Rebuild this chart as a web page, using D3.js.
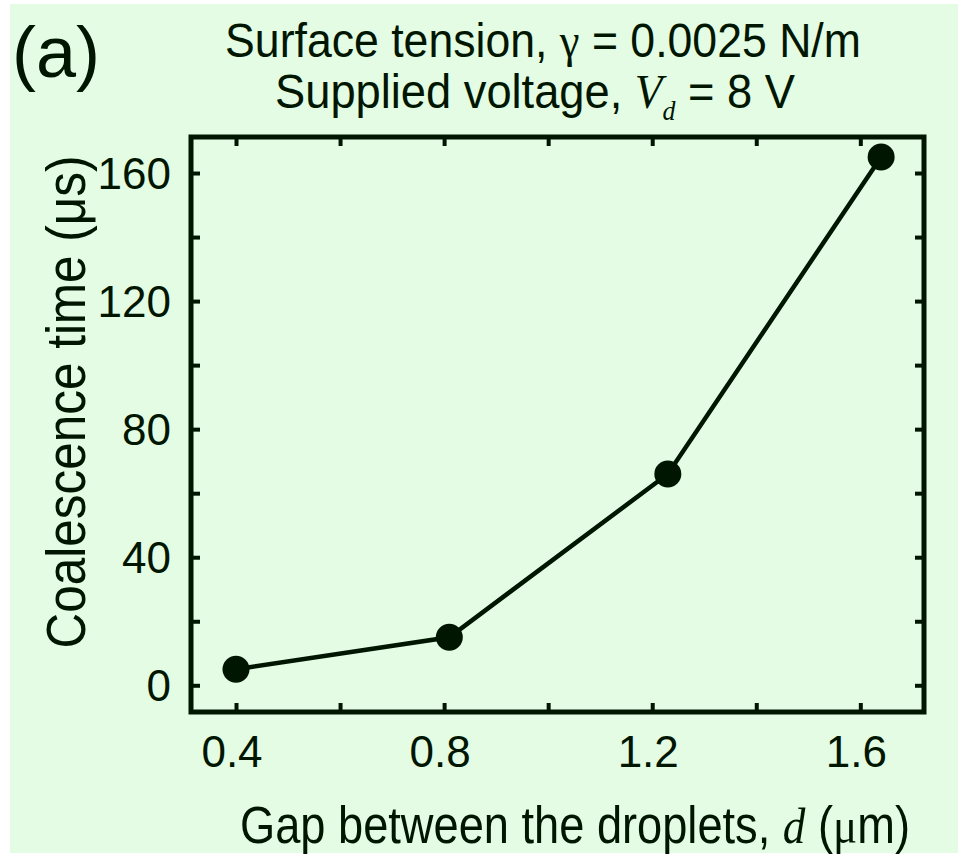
<!DOCTYPE html>
<html>
<head>
<meta charset="utf-8">
<script src="https://cdn.jsdelivr.net/npm/d3@7"></script>
<style>
  html, body { margin: 0; padding: 0; background: #ffffff; }
  svg { display: block; }
  text { font-family: "Liberation Sans", Arial, Helvetica, sans-serif; fill: #001600; }
</style>
</head>
<body>
<svg id="chart" width="958" height="858"></svg>
<script>
// ---- data ----
const gap = [0.40, 0.81, 1.23, 1.64];          // d (µm)
const coalescenceTime = [5, 15, 66, 165];       // µs
const xTicks = [0.4, 0.6, 0.8, 1.0, 1.2, 1.4, 1.6];
const xTickLabels = ["0.4", "0.8", "1.2", "1.6"];
const yTicks = [0, 20, 40, 60, 80, 100, 120, 140, 160];
const yTickLabels = ["0", "40", "80", "120", "160"];

const ink = "#001600";
const bg = "#e3fce3";
const serif = "Liberation Serif, 'DejaVu Serif', serif";

const svg = d3.select("#chart");
svg.append("rect").attr("x", 10).attr("y", 4).attr("width", 948).attr("height", 849).attr("fill", bg);

const L = 191, R = 924, T = 137, B = 712;
const x = d3.scaleLinear().domain([0.3135, 1.7224]).range([L, R]);
const y = d3.scaleLinear().domain([-8.34, 171.25]).range([B, T]);

const tickLen = 9;
const gx = svg.append("g").attr("transform", `translate(0,${B})`)
  .call(d3.axisBottom(x).tickValues(xTicks).tickSizeInner(-tickLen).tickSizeOuter(0).tickFormat(""));
const gxTop = svg.append("g").attr("transform", `translate(0,${T})`)
  .call(d3.axisTop(x).tickValues(xTicks).tickSizeInner(-tickLen).tickSizeOuter(0).tickFormat(""));
const gy = svg.append("g").attr("transform", `translate(${L},0)`)
  .call(d3.axisLeft(y).tickValues(yTicks).tickSizeInner(-tickLen).tickSizeOuter(0).tickFormat(""));
const gyR = svg.append("g").attr("transform", `translate(${R},0)`)
  .call(d3.axisRight(y).tickValues(yTicks).tickSizeInner(-tickLen).tickSizeOuter(0).tickFormat(""));
[gx, gxTop, gy, gyR].forEach(g => {
  g.select(".domain").remove();
  g.selectAll(".tick line").attr("stroke", ink).attr("stroke-width", 4);
});

// frame
svg.append("rect").attr("x", L).attr("y", T).attr("width", R - L).attr("height", B - T)
  .attr("fill", "none").attr("stroke", ink).attr("stroke-width", 5);

// tick labels
svg.append("g").selectAll("text").data(xTickLabels).join("text")
  .attr("x", d => x(+d) - 4).attr("y", 767)
  .attr("text-anchor", "middle").attr("font-size", 44).text(d => d);
svg.append("g").selectAll("text").data(yTickLabels).join("text")
  .attr("x", 171).attr("y", d => y(+d)).attr("dy", "0.36em")
  .attr("text-anchor", "end").attr("font-size", 44).text(d => d);

// line + markers
const pts = gap.map((g, i) => [g, coalescenceTime[i]]);
svg.append("path").datum(pts)
  .attr("d", d3.line().x(d => x(d[0])).y(d => y(d[1])))
  .attr("fill", "none").attr("stroke", ink).attr("stroke-width", 4.5);
svg.append("g").selectAll("circle").data(pts).join("circle")
  .attr("cx", d => x(d[0])).attr("cy", d => y(d[1])).attr("r", 13.5).attr("fill", ink);

// condensed text helper: fit the natural text width to a target width by horizontal scaling
function fitted(cx, cy, size, targetW, rot) {
  const g = svg.append("g");
  const t = g.append("text").attr("x", 0).attr("y", 0).attr("text-anchor", "middle").attr("font-size", size);
  return {
    t,
    fit() {
      const w = t.node().getComputedTextLength();
      const s = targetW / w;
      g.attr("transform", `translate(${cx},${cy}) rotate(${rot || 0}) scale(${s},1)`);
    }
  };
}

// panel label
svg.append("text").attr("x", 12).attr("y", 77).attr("font-size", 72).text("(a)");

const t1 = fitted(543, 57, 49, 636);
t1.t.append("tspan").text("Surface tension, ");
t1.t.append("tspan").attr("font-family", serif).text("γ");
t1.t.append("tspan").text(" = 0.0025 N/m");
t1.fit();

const t2 = fitted(535, 108, 49, 520);
t2.t.append("tspan").text("Supplied voltage, ");
t2.t.append("tspan").attr("font-family", serif).attr("font-style", "italic").text("V");
t2.t.append("tspan").attr("font-family", serif).attr("font-style", "italic")
  .attr("font-size", 28).attr("dy", 12).text("d");
t2.t.append("tspan").attr("dy", -12).text(" = 8 V");
t2.fit();

const xt = fitted(575, 843, 51, 670);
xt.t.append("tspan").text("Gap between the droplets, ");
xt.t.append("tspan").attr("font-family", serif).attr("font-style", "italic").text("d");
xt.t.append("tspan").text(" (");
xt.t.append("tspan").attr("font-family", serif).text("μ");
xt.t.append("tspan").text("m)");
xt.fit();

const yt = fitted(85, 402, 56, 493, -90);
yt.t.text("Coalescence time (μs)");
yt.fit();
</script>
</body>
</html>
